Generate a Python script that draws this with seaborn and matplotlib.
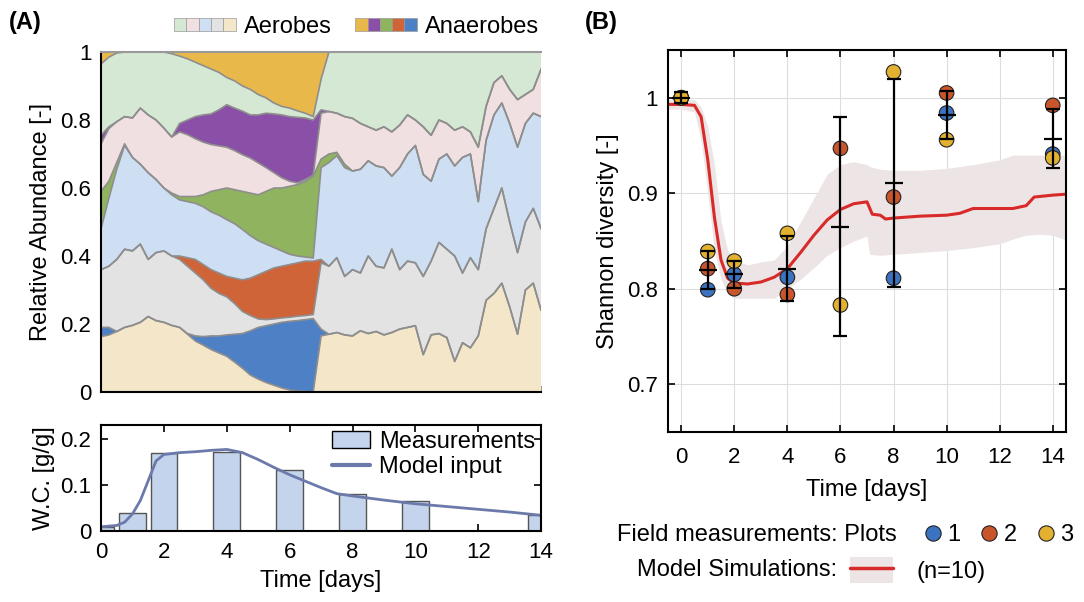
import matplotlib

matplotlib.use("Agg")
import matplotlib.pyplot as plt
import numpy as np
import pandas as pd
import seaborn as sns
from matplotlib.legend_handler import HandlerTuple
from matplotlib.lines import Line2D
from matplotlib.patches import Patch

sns.set_theme(style="ticks")
plt.rcParams["font.family"] = ["Liberation Sans", "DejaVu Sans"]
plt.rcParams["font.size"] = 16
for key in ["text.color", "axes.labelcolor", "xtick.color", "ytick.color"]:
    plt.rcParams[key] = "black"

# ---------------- data: panel A (community composition) ----------------
# time grid every 0.25 day, 0..14 (57 points)
time_a = np.arange(57) * 0.25

# cumulative upper edge of every taxon (bottom -> top of the stack)
top_beige = [0.163, 0.168, 0.178, 0.190, 0.196, 0.205, 0.222, 0.210, 0.205, 0.196,
             0.190, 0.170, 0.150, 0.138, 0.125, 0.115, 0.105, 0.088, 0.070, 0.050,
             0.038, 0.028, 0.020, 0.012, 0.006, 0.003, 0.002, 0.000,
             0.165, 0.170, 0.175, 0.168, 0.165, 0.180, 0.172, 0.178, 0.168, 0.175,
             0.185, 0.190, 0.195, 0.110, 0.168, 0.172, 0.160, 0.090, 0.145, 0.130,
             0.165, 0.270, 0.290, 0.320, 0.250, 0.170, 0.300, 0.320, 0.240]
top_gray = [0.360, 0.370, 0.390, 0.420, 0.415, 0.435, 0.390, 0.410, 0.415, 0.400,
            0.390, 0.370, 0.350, 0.330, 0.305, 0.290, 0.280, 0.260, 0.237, 0.225,
            0.215, 0.213, 0.215, 0.218, 0.220, 0.223, 0.225, 0.228,
            0.380, 0.370, 0.395, 0.340, 0.360, 0.350, 0.400, 0.370, 0.365, 0.420,
            0.360, 0.385, 0.380, 0.340, 0.385, 0.440, 0.420, 0.400, 0.350, 0.395,
            0.360, 0.480, 0.540, 0.600, 0.500, 0.410, 0.500, 0.540, 0.480]
top_lblue = [0.480, 0.570, 0.655, 0.725, 0.690, 0.670, 0.645, 0.625, 0.600, 0.580,
             0.565, 0.560, 0.555, 0.545, 0.530, 0.520, 0.507, 0.495, 0.478, 0.460,
             0.445, 0.435, 0.425, 0.415, 0.405, 0.400, 0.397, 0.394,
             0.660, 0.675, 0.695, 0.660, 0.650, 0.655, 0.680, 0.665, 0.660, 0.635,
             0.660, 0.700, 0.725, 0.640, 0.620, 0.685, 0.700, 0.665, 0.690, 0.700,
             0.560, 0.740, 0.815, 0.850, 0.790, 0.720, 0.790, 0.820, 0.810]
top_pink = [0.730, 0.775, 0.795, 0.810, 0.806, 0.835, 0.815, 0.800, 0.776, 0.750,
            0.765, 0.757, 0.745, 0.735, 0.728, 0.724, 0.720, 0.710, 0.698, 0.688,
            0.674, 0.660, 0.645, 0.630, 0.620, 0.615, 0.625, 0.638,
            0.820, 0.825, 0.820, 0.810, 0.805, 0.790, 0.780, 0.770, 0.780, 0.765,
            0.785, 0.815, 0.800, 0.780, 0.755, 0.800, 0.790, 0.770, 0.780, 0.765,
            0.720, 0.840, 0.910, 0.930, 0.890, 0.860, 0.875, 0.890, 0.950]
top_lgreen = [0.965, 0.985, 0.997, 1.000, 1.000, 1.000, 1.000, 1.000, 1.000, 0.995,
              0.988, 0.980, 0.970, 0.960, 0.950, 0.940, 0.925, 0.915, 0.900, 0.890,
              0.875, 0.865, 0.850, 0.840, 0.835, 0.827, 0.820, 0.810,
              0.920] + [1.0] * 28

# anaerobes: upper edge while present (they vanish after ~day 7)
top_blue_early = [0.190, 0.190, 0.178, 0.190, 0.196, 0.205, 0.222, 0.210, 0.205, 0.196,
                  0.190, 0.172, 0.165, 0.163, 0.165, 0.165, 0.168, 0.170, 0.172, 0.180,
                  0.190, 0.195, 0.200, 0.205, 0.208, 0.210, 0.213, 0.216, 0.185]
top_orange_early = [0.360, 0.370, 0.390, 0.420, 0.415, 0.435, 0.390, 0.410, 0.415, 0.400,
                    0.400, 0.395, 0.390, 0.375, 0.360, 0.350, 0.340, 0.335, 0.330, 0.335,
                    0.345, 0.355, 0.365, 0.370, 0.375, 0.380, 0.385, 0.385, 0.390]
top_green_early = [0.590, 0.620, 0.675, 0.730, 0.690, 0.670, 0.645, 0.625, 0.600, 0.585,
                   0.575, 0.575, 0.575, 0.580, 0.590, 0.595, 0.600, 0.595, 0.590, 0.585,
                   0.580, 0.590, 0.600, 0.600, 0.605, 0.610, 0.620, 0.635, 0.685,
                   0.700, 0.705, 0.670]
top_purple_early = [0.755, 0.780, 0.795, 0.810, 0.806, 0.835, 0.815, 0.800, 0.776, 0.750,
                    0.790, 0.800, 0.810, 0.815, 0.818, 0.830, 0.845, 0.835, 0.826, 0.815,
                    0.815, 0.820, 0.818, 0.815, 0.810, 0.808, 0.806, 0.800, 0.830]

aerobe_colors = ["#d5e8d4", "#f1e0e1", "#cfdff3", "#e3e3e3", "#f3e6c9"]
anaerobe_colors = ["#e9b84a", "#8a4fa6", "#8fb35e", "#cf6439", "#4e80c5"]

# ---------------- data: panel A (water content) ----------------
wc_days = [0, 1, 2, 4, 6, 8, 10, 14]
wc_measured = [0.009, 0.039, 0.170, 0.172, 0.132, 0.081, 0.066, 0.034]
wc_model_t = [0, 0.5, 0.75, 1, 1.25, 1.5, 1.75, 2, 2.5, 3, 3.5, 4, 4.5, 5, 5.5, 6,
              6.5, 7, 7.5, 8, 9, 10, 11, 12, 13, 14]
wc_model = [0.009, 0.012, 0.019, 0.037, 0.066, 0.109, 0.152, 0.166, 0.170, 0.172,
            0.175, 0.177, 0.170, 0.155, 0.138, 0.122, 0.108, 0.094, 0.081, 0.076,
            0.067, 0.059, 0.053, 0.047, 0.041, 0.034]

# ---------------- data: panel B (Shannon diversity) ----------------
field_days = [0, 1, 2, 4, 6, 8, 10, 14]
plot1 = [1.000, 0.799, 0.815, 0.812, np.nan, 0.811, 0.984, 0.941]
plot2 = [1.000, 0.821, 0.800, 0.794, 0.947, 0.896, 1.005, 0.992]
plot3 = [1.000, 0.839, 0.829, 0.858, 0.783, 1.027, 0.956, 0.937]
field_mean = [1.000, 0.820, 0.815, 0.821, 0.865, 0.911, 0.982, 0.957]
field_sd = [0.006, 0.020, 0.014, 0.034, 0.115, 0.109, 0.025, 0.031]
plot_colors = ["#3b73c1", "#c9552b", "#e2b130"]

sim_t = [-0.5, 0, 0.5, 0.75, 1.0, 1.25, 1.5, 1.75, 2.0, 2.5, 3.0, 3.5, 4.0, 4.5, 5.0,
         5.5, 6.0, 6.5, 7.0, 7.2, 7.5, 7.7, 8, 9, 10, 10.5, 11, 12, 12.5, 13, 13.3,
         14, 14.5]
sim_mean = [0.993, 0.993, 0.992, 0.980, 0.935, 0.875, 0.830, 0.811, 0.806, 0.805,
            0.807, 0.812, 0.821, 0.838, 0.856, 0.872, 0.883, 0.889, 0.891, 0.878,
            0.877, 0.873, 0.874, 0.876, 0.877, 0.879, 0.884, 0.884, 0.884, 0.887,
            0.896, 0.898, 0.899]
band_t = [-0.5, 0, 0.5, 0.75, 1.0, 1.25, 1.5, 1.75, 2.0, 2.5, 3.0, 3.5, 4.0, 4.5, 5.0,
          5.5, 6.0, 6.5, 7.0, 7.1, 7.5, 8, 9, 10, 11, 12, 12.5, 13, 13.5, 14, 14.5]
band_lo = [0.988, 0.988, 0.985, 0.955, 0.900, 0.840, 0.810, 0.795, 0.790, 0.790,
           0.790, 0.790, 0.800, 0.810, 0.822, 0.835, 0.843, 0.850, 0.855, 0.836,
           0.835, 0.836, 0.838, 0.840, 0.843, 0.847, 0.852, 0.856, 0.857, 0.856, 0.851]
band_hi = [0.998, 0.998, 0.998, 0.990, 0.970, 0.930, 0.870, 0.840, 0.830, 0.825,
           0.828, 0.830, 0.845, 0.870, 0.895, 0.920, 0.930, 0.933, 0.930, 0.928,
           0.925, 0.924, 0.924, 0.926, 0.930, 0.935, 0.940, 0.940, 0.940, 0.940, 0.940]


def style_box(ax):
    for sp in ax.spines.values():
        sp.set_visible(True)
        sp.set_linewidth(1.5)
        sp.set_color("black")
    ax.tick_params(direction="in", top=True, right=True, length=5, width=1.2,
                   labelsize=16, pad=7)


fig = plt.figure(figsize=(10.84, 6.02), dpi=100)
ax_a = fig.add_axes([0.0932, 0.3488, 0.406, 0.5648])
ax_w = fig.add_axes([0.0932, 0.118, 0.406, 0.176])
ax_b = fig.add_axes([0.6162, 0.2824, 0.3672, 0.6346])

# ---------------- panel A: stacked relative abundance ----------------
n_early = len(top_blue_early)
top_beige = np.array(top_beige)
top_blue = np.r_[top_blue_early, top_beige[n_early:]]
top_gray = np.array(top_gray)
top_orange = np.r_[top_orange_early, top_gray[n_early:]]
top_lblue = np.array(top_lblue)
top_green = np.r_[top_green_early, top_lblue[len(top_green_early):]]
top_pink = np.array(top_pink)
top_purple = np.r_[top_purple_early, top_pink[n_early:]]
top_lgreen = np.array(top_lgreen)
stack_tops = np.vstack([top_beige, top_blue, top_gray, top_orange, top_lblue,
                        top_green, top_pink, top_purple, top_lgreen,
                        np.ones_like(top_beige)])
abundance = np.diff(np.vstack([np.zeros_like(top_beige), stack_tops]), axis=0)
abundance = np.clip(abundance, 0, None)
layer_colors = [aerobe_colors[4], anaerobe_colors[4], aerobe_colors[3],
                anaerobe_colors[3], aerobe_colors[2], anaerobe_colors[2],
                aerobe_colors[1], anaerobe_colors[1], aerobe_colors[0],
                anaerobe_colors[0]]
ax_a.stackplot(time_a, abundance, colors=layer_colors, edgecolor="none",
               linewidth=0)
for edge in stack_tops[:-1]:
    ax_a.plot(time_a, edge, color="#8e8e8e", lw=1.2)

ax_a.set_xlim(0, 14)
ax_a.set_ylim(0, 1)
ax_a.set_xticks(range(0, 15, 2))
ax_a.set_xticklabels([])
ax_a.set_yticks([0, 0.2, 0.4, 0.6, 0.8, 1])
ax_a.set_yticklabels(["0", "0.2", "0.4", "0.6", "0.8", "1"])
ax_a.set_ylabel("Relative Abundance [-]", fontsize=17, labelpad=6)
style_box(ax_a)
ax_a.spines["top"].set_color("#999999")
ax_a.spines["right"].set_visible(False)
ax_a.tick_params(axis="x", top=False, length=4, color="#888888")

aer_handles = tuple(Patch(facecolor=c, edgecolor="#999999", lw=0.5) for c in aerobe_colors)
ana_handles = tuple(Patch(facecolor=c, edgecolor="#999999", lw=0.5) for c in anaerobe_colors)
fig.legend([aer_handles, ana_handles], ["Aerobes", "Anaerobes"],
           handler_map={tuple: HandlerTuple(ndivide=None, pad=0)},
           loc="center", bbox_to_anchor=(0.329, 0.955), ncol=2, frameon=False,
           fontsize=17, handlelength=2.6, handleheight=0.5, handletextpad=0.35,
           columnspacing=1.0)

# ---------------- panel A: water content ----------------
sns.barplot(x=wc_days, y=wc_measured, native_scale=True, width=0.85,
            color="#c3d4ec", edgecolor="#555555", linewidth=1, ax=ax_w,
            saturation=1)
sns.lineplot(x=wc_model_t, y=wc_model, color="#6b7aab", lw=2, ax=ax_w)
ax_w.set_xlim(0, 14)
ax_w.set_ylim(0, 0.23)
ax_w.set_xticks(range(0, 15, 2))
ax_w.set_yticks([0, 0.1, 0.2])
ax_w.set_yticklabels(["0", "0.1", "0.2"])
ax_w.set_xlabel("Time [days]", fontsize=17, labelpad=5)
ax_w.set_ylabel("W.C. [g/g]", fontsize=17)
style_box(ax_w)
ax_w.tick_params(axis="x", pad=8)
wc_handles = [Patch(facecolor="#c3d4ec", edgecolor="black", lw=1),
              Line2D([], [], color="#6b7aab", lw=3)]
ax_w.legend(wc_handles, ["Measurements", "Model input"], loc="upper right",
            frameon=False, fontsize=17, handlelength=1.6, handletextpad=0.4,
            labelspacing=0.15, borderaxespad=0.1, borderpad=0.15)

# ---------------- panel B: Shannon diversity ----------------
ax_b.grid(True, color="#dddddd", lw=0.8)
ax_b.set_axisbelow(True)
ax_b.fill_between(band_t, band_lo, band_hi, color="#ede5e5", lw=0, zorder=1)
sns.lineplot(x=sim_t, y=sim_mean, color="#d92a2a", lw=2.2, ax=ax_b, zorder=2)

field = pd.DataFrame({
    "day": field_days * 3,
    "H": plot1 + plot2 + plot3,
    "Plot": ["1"] * 8 + ["2"] * 8 + ["3"] * 8,
}).dropna()
sns.scatterplot(data=field, x="day", y="H", hue="Plot", palette=plot_colors,
                s=110, edgecolor="#222222", linewidth=0.8, legend=False,
                ax=ax_b, zorder=3)
ax_b.errorbar(field_days, field_mean, yerr=field_sd, fmt="none", ecolor="black",
              elinewidth=1.6, capsize=5, capthick=1.6, zorder=5)
ax_b.plot(field_days, field_mean, ls="none", marker="_", ms=13, mew=1.6,
          color="black", zorder=5)

ax_b.set_xlim(-0.5, 14.5)
ax_b.set_ylim(0.65, 1.05)
ax_b.set_xticks(range(0, 15, 2))
ax_b.set_yticks([0.7, 0.8, 0.9, 1.0])
ax_b.set_yticklabels(["0.7", "0.8", "0.9", "1"])
ax_b.set_xlabel("Time [days]", fontsize=17, labelpad=8)
ax_b.set_ylabel("Shannon diversity [-]", fontsize=17, labelpad=6)
style_box(ax_b)
ax_b.tick_params(axis="x", pad=11)

# legend below panel B
y1 = 1 - 535 / 602
y2 = 1 - 570 / 602
fig.text(897 / 1084, y1, "Field measurements: Plots", ha="right", va="center",
         fontsize=17)
dot_handles = [Line2D([], [], ls="none", marker="o", ms=11, mfc=c, mec="#222222",
                      mew=0.8) for c in plot_colors]
fig.legend(dot_handles, ["1", "2", "3"], loc="center left",
           bbox_to_anchor=(922 / 1084, y1), ncol=3, frameon=False, fontsize=17,
           handlelength=0.9, handletextpad=0.15, columnspacing=0.8,
           borderaxespad=0, borderpad=0)
fig.text(837 / 1084, y2, "Model Simulations:", ha="right", va="center", fontsize=17)
sim_handle = (Patch(facecolor="#ede5e5", edgecolor="none"),
              Line2D([], [], color="#d92a2a", lw=2.5))
fig.legend([sim_handle], ["(n=10)"], handler_map={tuple: HandlerTuple(ndivide=1)},
           loc="center left", bbox_to_anchor=(850 / 1084, y2), frameon=False,
           fontsize=17, handlelength=1.8, handleheight=1.3, handletextpad=1.0,
           borderaxespad=0, borderpad=0)

fig.text(0.008, 0.962, "(A)", fontsize=17, fontweight="bold", va="center")
fig.text(0.54, 0.962, "(B)", fontsize=17, fontweight="bold", va="center")

fig.savefig("out.png", dpi=100)
